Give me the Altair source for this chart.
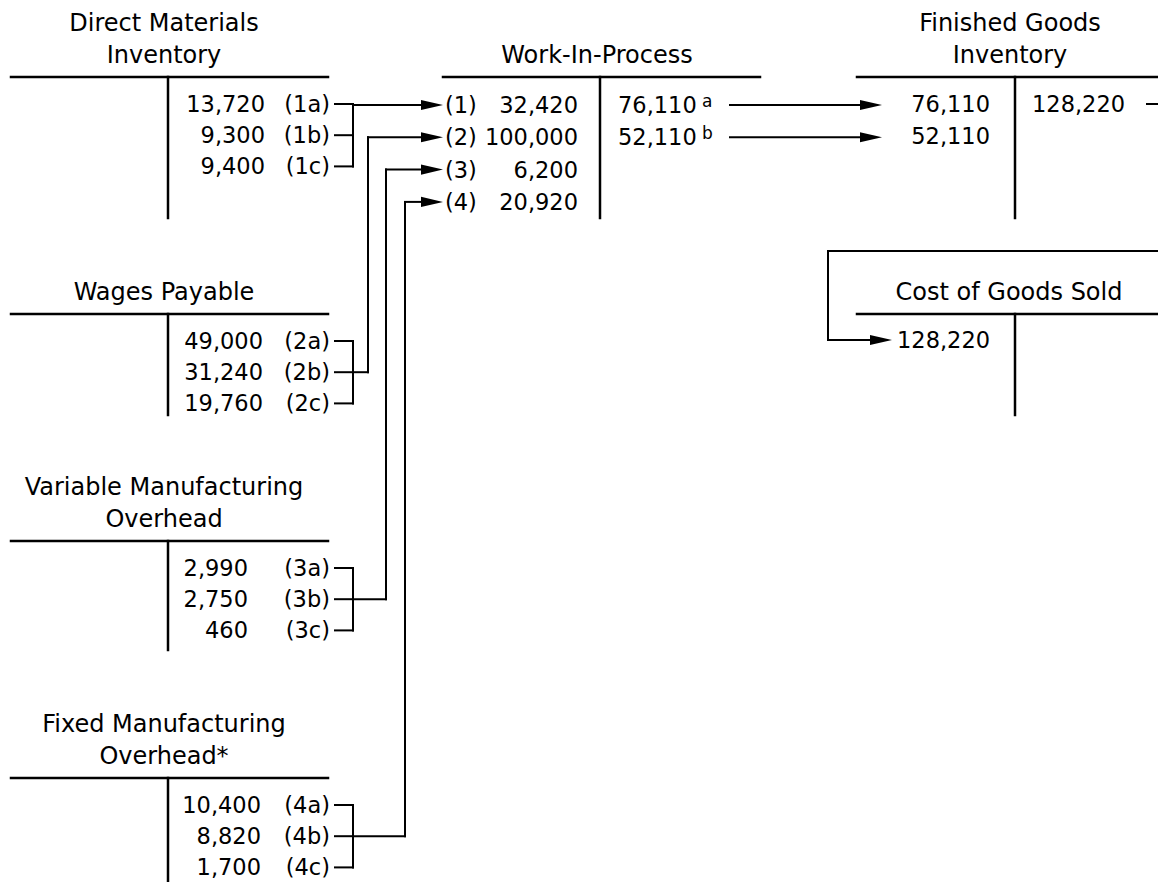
import altair as alt
import pandas as pd

# ---------------- chart values ----------------
dm_title = ["Direct Materials", "Inventory"]
dm_amounts = ["13,720", "9,300", "9,400"]
dm_refs = ["(1a)", "(1b)", "(1c)"]

wp_title = ["Wages Payable"]
wp_amounts = ["49,000", "31,240", "19,760"]
wp_refs = ["(2a)", "(2b)", "(2c)"]

vo_title = ["Variable Manufacturing", "Overhead"]
vo_amounts = ["2,990", "2,750", "460"]
vo_refs = ["(3a)", "(3b)", "(3c)"]

fo_title = ["Fixed Manufacturing", "Overhead*"]
fo_amounts = ["10,400", "8,820", "1,700"]
fo_refs = ["(4a)", "(4b)", "(4c)"]

wip_title = ["Work-In-Process"]
wip_debit_refs = ["(1)", "(2)", "(3)", "(4)"]
wip_debit_amounts = ["32,420", "100,000", "6,200", "20,920"]
wip_credit_amounts = ["76,110", "52,110"]
wip_credit_notes = ["a", "b"]

fg_title = ["Finished Goods", "Inventory"]
fg_debit_amounts = ["76,110", "52,110"]
fg_credit_amounts = ["128,220"]

cgs_title = ["Cost of Goods Sold"]
cgs_debit_amounts = ["128,220"]

# ---------------- layout (page pixel space) ----------------
W, H = 1150, 874
M = 8
RIGHT = 1162
FONT = "DejaVu Sans"
HEAD = 11  # half length of an arrowhead

texts = []
thick = []
thin = []
tips = []


def add_text(x, y, t, align, kind):
    texts.append(dict(x=x, y=y, t=t, al=align, kind=kind))


def t_account(title, line_y, x0, x1, xm, y_bot, tcx):
    thick.append(dict(x=x0, y=line_y, x2=x1, y2=line_y))
    thick.append(dict(x=xm, y=line_y, x2=xm, y2=y_bot))
    n = len(title)
    for i, s in enumerate(title):
        add_text(tcx, line_y - 14 - 32 * (n - 1 - i), s, "center", "title")


def wip_row(k):
    return 113 + 32.3 * k


left_accounts = [
    (dm_title, dm_amounts, dm_refs, 77, 218, 265, 353),
    (wp_title, wp_amounts, wp_refs, 314, 415, 263, 368),
    (vo_title, vo_amounts, vo_refs, 541, 650, 248, 386),
    (fo_title, fo_amounts, fo_refs, 778, 890, 261, 405),
]

for k, (title, amts, refs, ly, yb, amt_x, trunk) in enumerate(left_accounts):
    t_account(title, ly, 11, 328, 168, yb, 164)
    row_ys = []
    for i, (a, r) in enumerate(zip(amts, refs)):
        by = ly + 35 + 31.2 * i
        add_text(amt_x, by, a, "right", "body")
        add_text(330, by, r, "right", "body")
        cy = by - 8
        row_ys.append(cy)
        thin.append(dict(x=335, y=cy, x2=353, y2=cy))
    thin.append(dict(x=353, y=row_ys[0], x2=353, y2=row_ys[-1]))
    exit_y = row_ys[0] if k == 0 else row_ys[1]
    wy = wip_row(k) - 8
    thin.append(dict(x=353, y=exit_y, x2=trunk, y2=exit_y))
    thin.append(dict(x=trunk, y=exit_y, x2=trunk, y2=wy))
    thin.append(dict(x=trunk, y=wy, x2=433, y2=wy))
    tips.append(dict(x=443 - HEAD, y=wy))

# Work-In-Process
t_account(wip_title, 77, 443, 760, 600, 218, 597)
for k, (r, a) in enumerate(zip(wip_debit_refs, wip_debit_amounts)):
    by = wip_row(k)
    add_text(445, by, r, "left", "body")
    add_text(578, by, a, "right", "body")
for k, (a, n) in enumerate(zip(wip_credit_amounts, wip_credit_notes)):
    by = wip_row(k)
    add_text(618, by, a, "left", "body")
    add_text(702, by - 6, n, "left", "note")
    thin.append(dict(x=730, y=by - 8, x2=872, y2=by - 8))
    tips.append(dict(x=882 - HEAD, y=by - 8))

# Finished Goods Inventory
t_account(fg_title, 77, 857, RIGHT, 1015, 218, 1010)
for k, a in enumerate(fg_debit_amounts):
    add_text(990, 112 + 32 * k, a, "right", "body")
for k, a in enumerate(fg_credit_amounts):
    by = 112 + 32 * k
    add_text(1032, by, a, "left", "body")
    thin.append(dict(x=1147, y=by - 8, x2=RIGHT, y2=by - 8))

# Cost of Goods Sold
t_account(cgs_title, 314, 857, RIGHT, 1015, 415, 1009)
for k, a in enumerate(cgs_debit_amounts):
    by = 348 + 32 * k
    add_text(897, by, a, "left", "body")
    cy = by - 8
    thin.append(dict(x=RIGHT, y=251, x2=828, y2=251))
    thin.append(dict(x=828, y=251, x2=828, y2=cy))
    thin.append(dict(x=828, y=cy, x2=882, y2=cy))
    tips.append(dict(x=892 - HEAD, y=cy))

# ---------------- chart ----------------
xs = alt.Scale(domain=[M, M + W], range=[0, W], nice=False, zero=False)
ys = alt.Scale(domain=[M, M + H], range=[0, H], nice=False, zero=False)
X = alt.X("x:Q", scale=xs, axis=None)
Y = alt.Y("y:Q", scale=ys, axis=None)

thick_df = pd.DataFrame(thick)
thin_df = pd.DataFrame(thin)
tips_df = pd.DataFrame(tips)
text_df = pd.DataFrame(texts)

thick_layer = alt.Chart(thick_df).mark_rule(
    color="black", strokeWidth=2.5, strokeCap="square", clip=True
).encode(x=X, y=Y, x2="x2:Q", y2="y2:Q")

thin_layer = alt.Chart(thin_df).mark_rule(
    color="black", strokeWidth=2, strokeCap="square", clip=True
).encode(x=X, y=Y, x2="x2:Q", y2="y2:Q")

tip_layer = alt.Chart(tips_df).mark_point(
    shape="M-1,-0.46L1,0L-1,0.46Z", size=(2 * HEAD) ** 2, filled=True,
    color="black", opacity=1, strokeWidth=0
).encode(x=X, y=Y)

sizes = {"title": 24, "body": 22.5, "note": 17}
text_layers = []
for kind, fs in sizes.items():
    for align in ["left", "center", "right"]:
        sub = text_df[(text_df["kind"] == kind) & (text_df["al"] == align)]
        if len(sub) == 0:
            continue
        text_layers.append(
            alt.Chart(sub.reset_index(drop=True)).mark_text(
                align=align, baseline="alphabetic", font=FONT,
                fontSize=fs, color="black"
            ).encode(x=X, y=Y, text="t:N")
        )

chart = alt.layer(thick_layer, thin_layer, tip_layer, *text_layers).properties(
    width=W, height=H, padding=0,
    autosize=alt.AutoSizeParams(type="none"),
    background="white",
).configure_view(strokeWidth=0)

chart.save("out.html", embed_options={"renderer": "svg", "actions": False})
